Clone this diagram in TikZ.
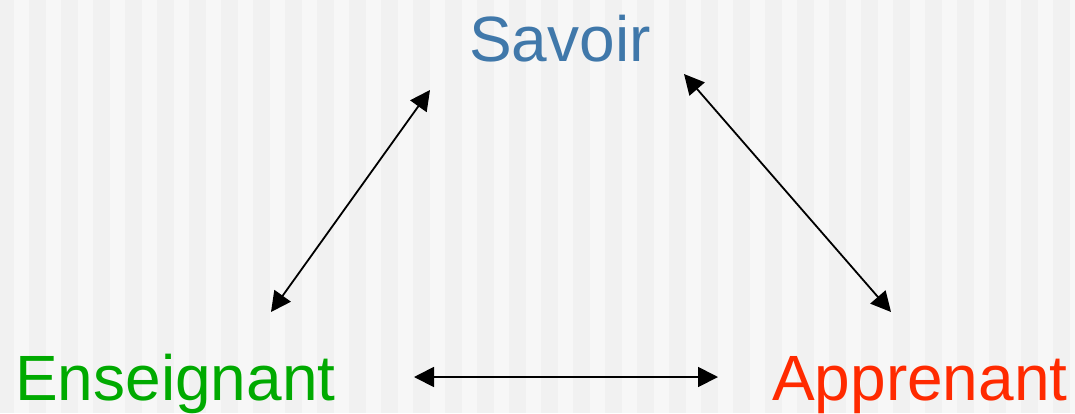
\documentclass[tikz,border=0pt]{standalone}
\usepackage{fontspec}
\setmainfont{Liberation Sans}
\usetikzlibrary{arrows.meta}
\definecolor{bgdark}{HTML}{F1F1F1}
\definecolor{bglight}{HTML}{F7F7F7}
\definecolor{savoirblue}{HTML}{4078AA}
\definecolor{ensgreen}{HTML}{00AA00}
\definecolor{appred}{HTML}{FF2A00}
\tikzset{
  term/.style={anchor=base west, inner sep=0pt, font=\fontsize{64}{64}\selectfont},
  link/.style={line width=1.8pt, {Triangle[length=20pt,width=20pt]}-{Triangle[length=20pt,width=20pt]}}
}
\begin{document}
\begin{tikzpicture}[x=1pt, y=-1pt]
  \useasboundingbox (0,0) rectangle (1075,413);
  % striped background
  \begin{scope}
    \clip (0,0) rectangle (1075,413);
    \fill[bgdark] (0,0) rectangle (1075,413);
    \foreach \i in {0,...,33}
      \fill[bglight] ({14+32*\i},0) rectangle ({29+32*\i},413);
  \end{scope}

  % the three poles
  \node[term, text=savoirblue] (savoir) at (469,61) {Savoir};
  \node[term, text=ensgreen] (enseignant) at (15,400) {Enseignant};
  \node[term, text=appred] (apprenant) at (772,400) {Apprenant};

  % arrow ends
  \coordinate (sv-l) at (430,90);
  \coordinate (en-t) at (271,312);
  \coordinate (sv-r) at (684,74);
  \coordinate (ap-t) at (891,312);
  \coordinate (en-r) at (414,377);
  \coordinate (ap-l) at (718,377);

  % relations
  \draw[link] (en-t) -- (sv-l);
  \draw[link] (sv-r) -- (ap-t);
  \draw[link] (en-r) -- (ap-l);
\end{tikzpicture}
\end{document}
